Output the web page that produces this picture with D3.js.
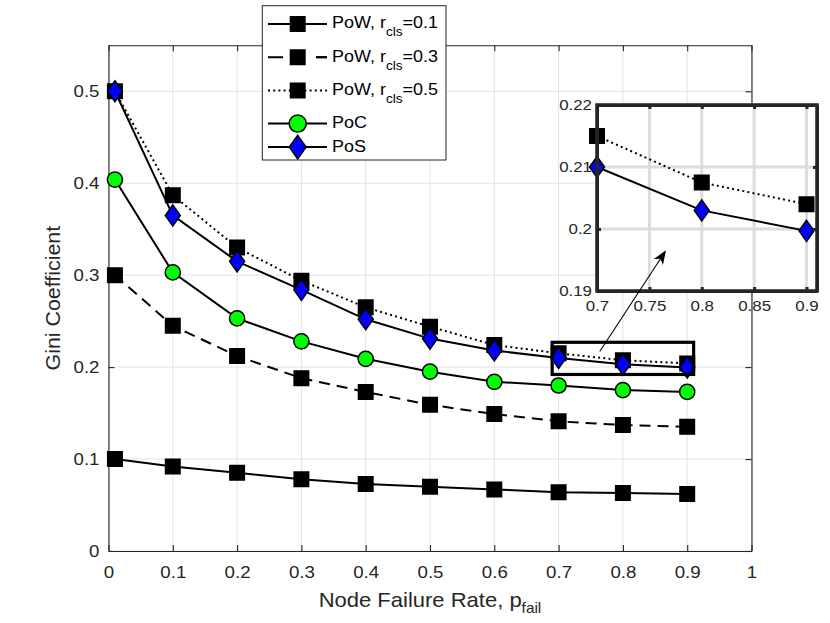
<!DOCTYPE html>
<html>
<head>
<meta charset="utf-8">
<script src="https://cdn.jsdelivr.net/npm/d3@7"></script>
<style>
body{margin:0;background:#fff}
svg{display:block;font-family:"Liberation Sans",Arial,Helvetica,sans-serif}
</style>
</head>
<body>
<svg id="chart" width="830" height="623"></svg>
<script>
// Data
const pFail  = [0.01, 0.1, 0.2, 0.3, 0.4, 0.5, 0.6, 0.7, 0.8, 0.9]
const powR01 = [0.100, 0.092, 0.085, 0.078, 0.073, 0.070, 0.067, 0.064, 0.063, 0.062]
const powR03 = [0.300, 0.245, 0.212, 0.188, 0.173, 0.159, 0.149, 0.141, 0.137, 0.135]
const powR05 = [0.500, 0.387, 0.330, 0.294, 0.265, 0.244, 0.224, 0.215, 0.2075, 0.204]
const poc    = [0.404, 0.303, 0.253, 0.228, 0.209, 0.195, 0.184, 0.180, 0.175, 0.173]
const pos    = [0.500, 0.365, 0.315, 0.284, 0.252, 0.231, 0.218, 0.210, 0.203, 0.1997]

const xTicks = [0, 0.1, 0.2, 0.3, 0.4, 0.5, 0.6, 0.7, 0.8, 0.9, 1]
const yTicks = [0, 0.1, 0.2, 0.3, 0.4, 0.5]
const insetXTicks = [0.7, 0.75, 0.8, 0.85, 0.9]
const insetYTicks = [0.19, 0.2, 0.21, 0.22]

// zoom window and arrow, in data units
const zoomBox = {x0: 0.69, x1: 0.91, y0: 0.192, y1: 0.227}
const arrowFrom = [0.764, 0.217]
const arrowTo = [0.867, 0.327]

const axisColor = "#262626"
const gridColor = "#e3e3e3"

const series = [
    {label: ["PoW, r", "cls", "=0.1"], values: powR01, dash: null, marker: "square", fill: "#000"},
    {label: ["PoW, r", "cls", "=0.3"], values: powR03, dash: "11,7", marker: "square", fill: "#000"},
    {label: ["PoW, r", "cls", "=0.5"], values: powR05, dash: "2,3.2", marker: "square", fill: "#000"},
    {label: ["PoC"], values: poc, dash: null, marker: "circle", fill: "#00ff00"},
    {label: ["PoS"], values: pos, dash: null, marker: "diamond", fill: "#0000ff"}
]

const svg = d3.select("#chart")

const plot = {left: 108.5, right: 751.5, top: 45.3, bottom: 551}
const x = d3.scaleLinear().domain([0, 1]).range([plot.left, plot.right])
const y = d3.scaleLinear().domain([0, 0.55]).range([plot.bottom, plot.top])

// the figure's lettering is a little wider than Liberation Sans
function stretch(sel, k){
    sel.each(function(){
        const t = d3.select(this)
        const tx = +t.attr("x") || 0, ty = +t.attr("y") || 0
        const pre = t.attr("transform") || ""
        t.attr("transform", `${pre} translate(${tx},${ty}) scale(${k},1) translate(${-tx},${-ty})`)
    })
}

function markerPath(type, k){
    k = k || 1
    if(type == "square"){
        const s = 14.5*k
        return `M${-s/2},${-s/2}h${s}v${s}h${-s}Z`
    }
    if(type == "circle"){
        const r = 7.6*k
        return `M${r},0A${r},${r} 0 1,1 ${-r},0A${r},${r} 0 1,1 ${r},0Z`
    }
    const w = 15*k, h = 21*k
    return `M0,${-h/2}L${w/2},0L0,${h/2}L${-w/2},0Z`
}

function drawSeries(g, sx, sy, list){
    list.forEach(s => {
        const pts = s.points
        g.append("path")
            .attr("d", d3.line().x(d => sx(d[0])).y(d => sy(d[1]))(pts))
            .attr("fill", "none")
            .attr("stroke", "#000")
            .attr("stroke-width", 2)
            .attr("stroke-dasharray", s.dash)
        g.selectAll(null).data(pts).enter().append("path")
            .attr("d", markerPath(s.marker))
            .attr("transform", d => `translate(${sx(d[0])},${sy(d[1])})`)
            .attr("fill", s.fill)
            .attr("stroke", "#000")
            .attr("stroke-width", 1.5)
    })
}

// ---- main axes
const main = svg.append("g")

main.append("g").selectAll("line").data(xTicks).enter().append("line")
    .attr("x1", d => x(d)).attr("x2", d => x(d))
    .attr("y1", plot.top).attr("y2", plot.bottom)
    .attr("stroke", gridColor).attr("stroke-width", 1)
main.append("g").selectAll("line").data(yTicks).enter().append("line")
    .attr("y1", d => y(d)).attr("y2", d => y(d))
    .attr("x1", plot.left).attr("x2", plot.right)
    .attr("stroke", gridColor).attr("stroke-width", 1)

function styleAxis(g){
    g.selectAll("path,line").attr("stroke", axisColor).attr("stroke-width", 1.1)
    g.selectAll("text").attr("fill", axisColor).attr("font-size", 17).call(stretch, 1.1)
}

main.append("g").attr("transform", `translate(0,${plot.bottom})`)
    .call(d3.axisBottom(x).tickValues(xTicks).tickSize(-6).tickSizeOuter(0).tickPadding(15).tickFormat(d => String(d)))
    .call(styleAxis)
main.append("g").attr("transform", `translate(0,${plot.top})`)
    .call(d3.axisTop(x).tickValues(xTicks).tickSize(-6).tickSizeOuter(0).tickFormat(""))
    .call(styleAxis)
main.append("g").attr("transform", `translate(${plot.left},0)`)
    .call(d3.axisLeft(y).tickValues(yTicks).tickSize(-6).tickSizeOuter(0).tickPadding(9).tickFormat(d => String(d)))
    .call(styleAxis)
main.append("g").attr("transform", `translate(${plot.right},0)`)
    .call(d3.axisRight(y).tickValues(yTicks).tickSize(-6).tickSizeOuter(0).tickFormat(""))
    .call(styleAxis)
main.selectAll(".domain").attr("fill", "none")

drawSeries(main, x, y, series.map(s => Object.assign({}, s, {points: pFail.map((p, i) => [p, s.values[i]])})))

// axis labels
const xl = main.append("text")
    .attr("x", (plot.left + plot.right)/2).attr("y", 607)
    .attr("text-anchor", "middle").attr("font-size", 20).attr("fill", axisColor)
xl.append("tspan").text("Node Failure Rate, p")
xl.append("tspan").attr("font-size", 14).attr("dy", 6).text("fail")
stretch(xl, 1.1)

main.append("text")
    .attr("transform", `translate(60,${(plot.top + plot.bottom)/2}) rotate(-90) scale(1.07,1)`)
    .attr("text-anchor", "middle").attr("font-size", 20).attr("fill", axisColor)
    .text("Gini Coefficient")

// zoom rectangle
main.append("rect")
    .attr("x", x(zoomBox.x0)).attr("y", y(zoomBox.y1))
    .attr("width", x(zoomBox.x1) - x(zoomBox.x0))
    .attr("height", y(zoomBox.y0) - y(zoomBox.y1))
    .attr("fill", "none").attr("stroke", "#000").attr("stroke-width", 3.2)

// ---- legend
const leg = svg.append("g")
const legBox = {x: 262.3, y: 5.7, w: 183.7, h: 154.3}
leg.append("rect")
    .attr("x", legBox.x).attr("y", legBox.y).attr("width", legBox.w).attr("height", legBox.h)
    .attr("fill", "#fff").attr("stroke", axisColor).attr("stroke-width", 1)

let baseline = 28.5
series.forEach(s => {
    const cy = baseline - 4.5
    leg.append("line")
        .attr("x1", 268).attr("x2", 327).attr("y1", cy).attr("y2", cy)
        .attr("stroke", "#000").attr("stroke-width", 2)
        .attr("stroke-dasharray", s.dash ? (s.dash == "11,7" ? "15,33" : s.dash) : null)
    if(s.dash == "11,7"){
        leg.append("line")
            .attr("x1", 316).attr("x2", 327).attr("y1", cy).attr("y2", cy)
            .attr("stroke", "#000").attr("stroke-width", 2)
    }
    leg.append("path")
        .attr("d", markerPath(s.marker, s.marker == "square" ? 1 : 1.12))
        .attr("transform", `translate(297.7,${cy})`)
        .attr("fill", s.fill).attr("stroke", "#000").attr("stroke-width", 1.5)
    const t = leg.append("text").attr("x", 332).attr("y", baseline)
        .attr("font-size", 16.5).attr("fill", "#000")
    t.append("tspan").text(s.label[0])
    if(s.label.length > 1){
        t.append("tspan").attr("font-size", 12.5).attr("dy", 8).text(s.label[1])
        t.append("tspan").attr("dy", -8).text(s.label[2])
    }
    stretch(t, 1.09)
    baseline += s.label.length > 1 ? 33.2 : 23.5
})

// ---- inset
const ix = d3.scaleLinear().domain([0.7, 0.91]).range([597, 817])
const iy = d3.scaleLinear().domain([0.19, 0.22]).range([291, 105])
const inset = svg.append("g")

inset.append("rect")
    .attr("x", ix.range()[0]).attr("y", iy.range()[1])
    .attr("width", ix.range()[1] - ix.range()[0]).attr("height", iy.range()[0] - iy.range()[1])
    .attr("fill", "#fff")
inset.append("g").selectAll("line").data(insetXTicks).enter().append("line")
    .attr("x1", d => ix(d)).attr("x2", d => ix(d))
    .attr("y1", iy.range()[1]).attr("y2", iy.range()[0])
    .attr("stroke", "#dcdcdc").attr("stroke-width", 3)
inset.append("g").selectAll("line").data(insetYTicks).enter().append("line")
    .attr("y1", d => iy(d)).attr("y2", d => iy(d))
    .attr("x1", ix.range()[0]).attr("x2", ix.range()[1])
    .attr("stroke", "#dcdcdc").attr("stroke-width", 3)

// only the series whose zoomed points fall inside the inset window
const zoomed = series.map(s => Object.assign({}, s, {
    points: pFail.map((p, i) => [p, s.values[i]])
        .filter(d => d[0] >= 0.7 && d[1] >= 0.19 && d[1] <= 0.22)
})).filter(s => s.points.length > 1)
drawSeries(inset, ix, iy, zoomed)

function styleInset(g){
    g.selectAll("path,line").attr("stroke", axisColor).attr("stroke-width", 3)
    g.selectAll("text").attr("fill", axisColor).attr("font-size", 15.5).call(stretch, 1.09)
}
inset.append("g").attr("transform", `translate(0,${iy.range()[0]})`)
    .call(d3.axisBottom(ix).tickValues(insetXTicks).tickSize(-4).tickSizeOuter(0).tickPadding(9).tickFormat(d => String(d)))
    .call(styleInset)
inset.append("g").attr("transform", `translate(0,${iy.range()[1]})`)
    .call(d3.axisTop(ix).tickValues(insetXTicks).tickSize(-4).tickSizeOuter(0).tickFormat(""))
    .call(styleInset)
inset.append("g").attr("transform", `translate(${ix.range()[0]},0)`)
    .call(d3.axisLeft(iy).tickValues(insetYTicks).tickSize(-4).tickSizeOuter(0).tickPadding(5).tickFormat(d => String(d)))
    .call(styleInset)
inset.append("g").attr("transform", `translate(${ix.range()[1]},0)`)
    .call(d3.axisRight(iy).tickValues(insetYTicks).tickSize(-4).tickSizeOuter(0).tickFormat(""))
    .call(styleInset)
inset.selectAll(".domain").attr("fill", "none")
inset.append("rect")
    .attr("x", ix.range()[0]).attr("y", iy.range()[1])
    .attr("width", ix.range()[1] - ix.range()[0]).attr("height", iy.range()[0] - iy.range()[1])
    .attr("fill", "none").attr("stroke", axisColor).attr("stroke-width", 3.5)

// ---- arrow
const ax0 = x(arrowFrom[0]), ay0 = y(arrowFrom[1])
const ax1 = x(arrowTo[0]), ay1 = y(arrowTo[1])
const ang = Math.atan2(ay1 - ay0, ax1 - ax0)
const headLen = 14, headW = 5.5
const bx = ax1 - headLen*Math.cos(ang), by = ay1 - headLen*Math.sin(ang)
svg.append("line")
    .attr("x1", ax0).attr("y1", ay0).attr("x2", bx + 4*Math.cos(ang)).attr("y2", by + 4*Math.sin(ang))
    .attr("stroke", "#000").attr("stroke-width", 1.1)
svg.append("path")
    .attr("d", `M${ax1},${ay1}L${bx - headW*Math.sin(ang)},${by + headW*Math.cos(ang)}L${bx + 4*Math.cos(ang)},${by + 4*Math.sin(ang)}L${bx + headW*Math.sin(ang)},${by - headW*Math.cos(ang)}Z`)
    .attr("fill", "#000")
</script>
</body>
</html>
